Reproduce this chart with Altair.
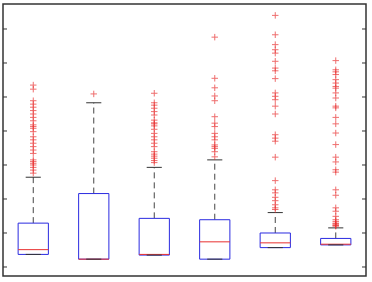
import altair as alt
import pandas as pd

# Box statistics for the six groups
groups = [1, 2, 3, 4, 5, 6]
q1 = [0.37, 0.23, 0.35, 0.23, 0.57, 0.65]
median = [0.51, 0.23, 0.37, 0.74, 0.71, 0.67]
q3 = [1.29, 2.16, 1.43, 1.39, 1.00, 0.84]
whisk_lo = [0.37, 0.23, 0.35, 0.23, 0.57, 0.65]
whisk_hi = [2.64, 4.83, 2.93, 3.15, 1.60, 1.15]

# Outliers beyond the whiskers, per group
out_1 = [5.35, 5.23, 4.89, 4.79, 4.70, 4.60, 4.50, 4.40, 4.30, 4.18, 4.13, 4.08,
         3.98, 3.83, 3.74, 3.64, 3.54, 3.44, 3.34, 3.15, 3.10, 3.05, 3.00, 2.93,
         2.85, 2.76]
out_2 = [5.09]
out_3 = [5.11, 4.83, 4.76, 4.67, 4.57, 4.47, 4.32, 4.24, 4.21, 4.15, 4.05, 3.93,
         3.83, 3.74, 3.64, 3.54, 3.39, 3.32, 3.26, 3.20, 3.13, 3.07]
out_4 = [6.76, 5.55, 5.27, 5.03, 4.89, 4.42, 4.23, 4.13, 3.93, 3.83, 3.74, 3.59,
         3.54, 3.49, 3.39, 3.24]
out_5 = [7.40, 6.83, 6.54, 6.39, 6.29, 6.05, 5.85, 5.77, 5.54, 5.12, 5.02, 4.92,
         4.73, 4.50, 3.89, 3.79, 3.70, 3.23, 2.54, 2.27, 2.18, 2.05, 1.95, 1.83,
         1.74, 1.69]
out_6 = [6.07, 5.80, 5.74, 5.66, 5.51, 5.41, 5.31, 5.26, 5.12, 4.97, 4.73, 4.68,
         4.40, 4.21, 3.94, 3.60, 3.23, 3.09, 2.86, 2.79, 2.27, 2.11, 1.74, 1.64,
         1.49, 1.39, 1.34, 1.29, 1.27, 1.24, 1.22, 1.20]
outliers = [out_1, out_2, out_3, out_4, out_5, out_6]

y_ticks = [0, 1, 2, 3, 4, 5, 6, 7]

W, H = 363, 272
BLUE = "#2a2ae0"
RED = "#e83030"
DARK = "#333333"

stats = pd.DataFrame({
    "g": groups, "q1": q1, "med": median, "q3": q3,
    "lo": whisk_lo, "hi": whisk_hi,
})
pts = pd.DataFrame(
    [{"g": g, "v": v} for g, vals in zip(groups, outliers) for v in vals]
)
ticks = pd.DataFrame({"t": y_ticks})

xs = alt.Scale(domain=[0.5, 6.5], nice=False, zero=False)
ys = alt.Scale(domain=[-0.265, 7.735], nice=False, zero=False)

base = alt.Chart(stats).transform_calculate(
    xl="datum.g - 0.25", xr="datum.g + 0.25",
    cl="datum.g - 0.125", cr="datum.g + 0.125",
)

whisk_up = base.mark_rule(color="#444444", strokeDash=[6, 4], strokeWidth=1).encode(
    x=alt.X("g:Q", scale=xs, axis=None),
    y=alt.Y("q3:Q", scale=ys, axis=None), y2="hi:Q",
)
whisk_dn = base.mark_rule(color="#444444", strokeDash=[6, 4], strokeWidth=1).encode(
    x=alt.X("g:Q", scale=xs, axis=None),
    y=alt.Y("lo:Q", scale=ys, axis=None), y2="q1:Q",
)
boxes = base.mark_rect(fill="white", stroke=BLUE, strokeWidth=1).encode(
    x=alt.X("xl:Q", scale=xs, axis=None), x2="xr:Q",
    y=alt.Y("q1:Q", scale=ys, axis=None), y2="q3:Q",
)
cap_hi = base.mark_rule(color=DARK, strokeWidth=1).encode(
    x=alt.X("cl:Q", scale=xs, axis=None), x2="cr:Q",
    y=alt.Y("hi:Q", scale=ys, axis=None),
)
cap_lo = base.mark_rule(color=DARK, strokeWidth=1).encode(
    x=alt.X("cl:Q", scale=xs, axis=None), x2="cr:Q",
    y=alt.Y("lo:Q", scale=ys, axis=None),
)
medians = base.mark_rule(color=RED, strokeWidth=1).encode(
    x=alt.X("xl:Q", scale=xs, axis=None), x2="xr:Q",
    y=alt.Y("med:Q", scale=ys, axis=None),
)
plus = alt.Chart(pts).mark_point(
    shape="M-1,0H1M0,-1V1", size=42, color=RED, filled=False, strokeWidth=1,
).encode(
    x=alt.X("g:Q", scale=xs, axis=None),
    y=alt.Y("v:Q", scale=ys, axis=None),
)

# Inward-pointing ticks on both vertical edges of the frame
tick_l = alt.Chart(ticks).mark_rule(color=DARK, strokeWidth=1).encode(
    x=alt.value(0), x2=alt.value(4),
    y=alt.Y("t:Q", scale=ys, axis=None),
)
tick_r = alt.Chart(ticks).mark_rule(color=DARK, strokeWidth=1).encode(
    x=alt.value(W - 4), x2=alt.value(W),
    y=alt.Y("t:Q", scale=ys, axis=None),
)

chart = alt.layer(
    whisk_up, whisk_dn, boxes, medians, cap_hi, cap_lo, plus, tick_l, tick_r
).properties(
    width=W, height=H,
    background="white",
    padding={"left": 3, "top": 4, "right": 6, "bottom": 6},
    autosize=alt.AutoSizeParams(type="none"),
).configure_view(
    stroke=DARK, strokeWidth=1.5,
)

chart.save("out.html", embed_options={"renderer": "svg", "actions": False})
